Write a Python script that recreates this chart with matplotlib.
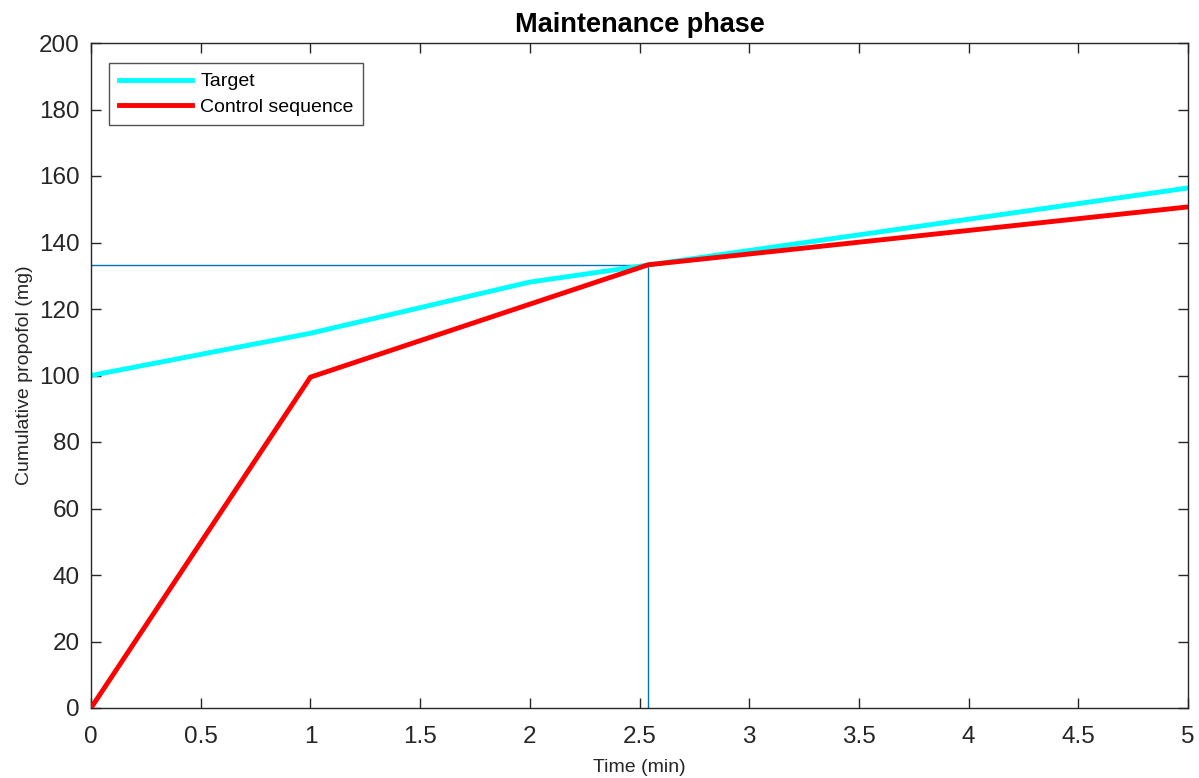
import matplotlib
matplotlib.use("Agg")
import matplotlib.pyplot as plt

plt.rcParams['font.family'] = ['Liberation Sans', 'DejaVu Sans']

# Data
target_t = [0, 1, 2, 3, 4, 5]
target_mg = [100.0, 112.7, 128.1, 137.6, 147.0, 156.4]
control_t = [0, 1, 2.54, 5]
control_mg = [0.0, 99.5, 133.3, 150.7]
cross_t = 2.54
cross_mg = 133.3
xticks = [0, 0.5, 1, 1.5, 2, 2.5, 3, 3.5, 4, 4.5, 5]
xticklabels = ['0', '0.5', '1', '1.5', '2', '2.5', '3', '3.5', '4', '4.5', '5']
yticks = list(range(0, 201, 20))

fig = plt.figure(figsize=(11.99, 7.78), dpi=100)
ax = fig.add_axes([91/1199, 1 - 708/778, (1188-91)/1199, (708-43)/778])

ax.plot([0, cross_t], [cross_mg, cross_mg], color='#0072BD', lw=1.0, zorder=1)
ax.plot([cross_t, cross_t], [0, cross_mg], color='#0072BD', lw=1.0, zorder=1)
ax.plot(target_t, target_mg, color='#00FFFF', lw=3.5, label='Target', zorder=2)
ax.plot(control_t, control_mg, color='#FF0000', lw=3.5, label='Control sequence', zorder=3)

ax.set_xlim(0, 5)
ax.set_ylim(0, 200)
ax.set_xticks(xticks)
ax.set_xticklabels(xticklabels)
ax.set_yticks(yticks)
ax.tick_params(direction='in', length=7, width=1, colors='#262626', labelsize=17.5,
               top=True, right=True, labeltop=False, labelright=False)
ax.tick_params(axis='x', pad=13)
ax.tick_params(axis='y', pad=8)
for s in ax.spines.values():
    s.set_color('#262626')
    s.set_linewidth(1)

ax.set_xlabel('Time (min)', fontsize=14, color='#262626', labelpad=8)
ax.set_ylabel('Cumulative propofol (mg)', fontsize=14, color='#262626', labelpad=4.5)
ax.set_title('Maintenance phase', fontsize=19.5, fontweight='bold', pad=8)

leg = ax.legend(loc='upper left', bbox_to_anchor=(18/1097, 1 - 20/665), fontsize=14,
                frameon=True, fancybox=False, edgecolor='#262626', handlelength=3.75,
                borderaxespad=0, labelspacing=0.4, handletextpad=0.45, borderpad=0.5)
leg.get_frame().set_linewidth(1)

fig.savefig('out.png', dpi=100)
